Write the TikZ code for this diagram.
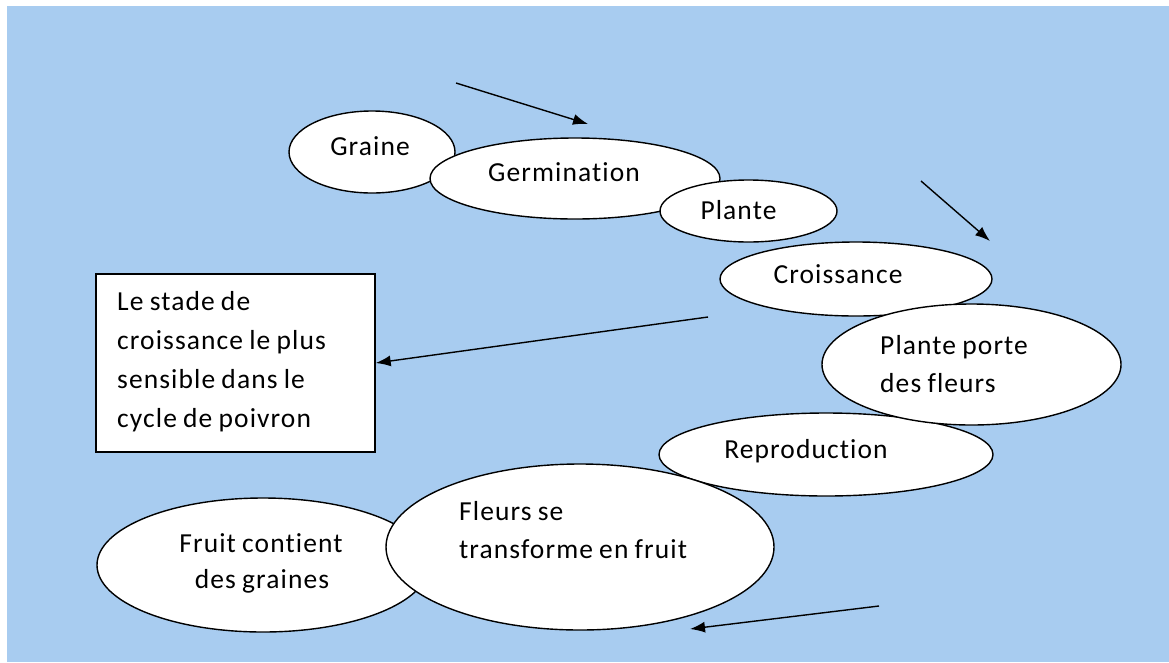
\documentclass[tikz,border=0pt]{standalone}
\usepackage{fontspec}
\setmainfont{Carlito}[Ligatures=CommonOff,LetterSpace=4,WordSpace=0.85]
\usetikzlibrary{shapes.geometric,arrows.meta}
\definecolor{bgblue}{HTML}{A8CCF0}
\begin{document}
\begin{tikzpicture}[x=1pt,y=-1pt,
  ell/.style={ellipse,draw=black,line width=1.4pt,fill=white,inner sep=0pt},
  lbl/.style={font=\fontsize{27.5}{38}\selectfont,inner sep=0pt,text=black},
  arr/.style={line width=1.4pt,-{Latex[length=15pt,width=11pt]}}
]
\useasboundingbox (0,0) rectangle (1169,662);
\fill[white] (0,0) rectangle (1169,662);
\fill[bgblue] (7,6) rectangle (1169,662);

% ellipses
\node[ell,minimum width=166pt,minimum height=82pt] (graine) at (372,152) {};
\node[ell,minimum width=290pt,minimum height=81pt] (germ) at (575,178.5) {};
\node[ell,minimum width=177pt,minimum height=62pt] (plante) at (748.5,211) {};
\node[ell,minimum width=272pt,minimum height=74pt] (crois) at (856,279) {};
\node[ell,minimum width=334pt,minimum height=83pt] (repro) at (826,454.5) {};
\node[ell,minimum width=299pt,minimum height=121pt] (porte) at (971.5,364.5) {};
\node[ell,minimum width=332pt,minimum height=134pt] (fruit) at (263,565) {};
\node[ell,minimum width=388pt,minimum height=166pt] (fleurs) at (580,547) {};

% box
\node[draw=black,line width=1.4pt,fill=white,minimum width=279pt,minimum height=178pt,inner sep=0pt] (box) at (235.5,363) {};

% labels
\node[lbl,anchor=base] (tgraine) at (370,155) {Graine};
\node[lbl,anchor=base] (tgerm) at (564,181) {Germination};
\node[lbl,anchor=base] (tplante) at (738.5,219) {Plante};
\node[lbl,anchor=base] (tcrois) at (838,283) {Croissance};
\node[lbl,anchor=base west] (tporte1) at (880,354) {Plante porte};
\node[lbl,anchor=base west] (tporte2) at (880,392) {des fleurs};
\node[lbl,anchor=base] (trepro) at (806,458) {Reproduction};
\node[lbl,anchor=base west] (tfleurs1) at (459,520) {Fleurs se};
\node[lbl,anchor=base west] (tfleurs2) at (459,558) {transforme en fruit};
\node[lbl,anchor=base] (tfruit1) at (261,552) {Fruit contient};
\node[lbl,anchor=base] (tfruit2) at (262,588) {des graines};
\node[lbl,anchor=base west] (tbox1) at (117,310) {Le stade de};
\node[lbl,anchor=base west] (tbox2) at (117,349) {croissance le plus};
\node[lbl,anchor=base west] (tbox3) at (117,388) {sensible dans le};
\node[lbl,anchor=base west] (tbox4) at (117,427) {cycle de poivron};

% arrows
\coordinate (a1s) at (456,83);
\coordinate (a1e) at (588,124);
\coordinate (a2s) at (921,181);
\coordinate (a2e) at (990,241);
\coordinate (a3s) at (708,317);
\coordinate (a4s) at (879,606);
\coordinate (a4e) at (690,629);
\draw[arr] (a1s) -- (a1e);
\draw[arr] (a2s) -- (a2e);
\draw[arr] (a3s) -- (box.east);
\draw[arr] (a4s) -- (a4e);
\end{tikzpicture}
\end{document}
